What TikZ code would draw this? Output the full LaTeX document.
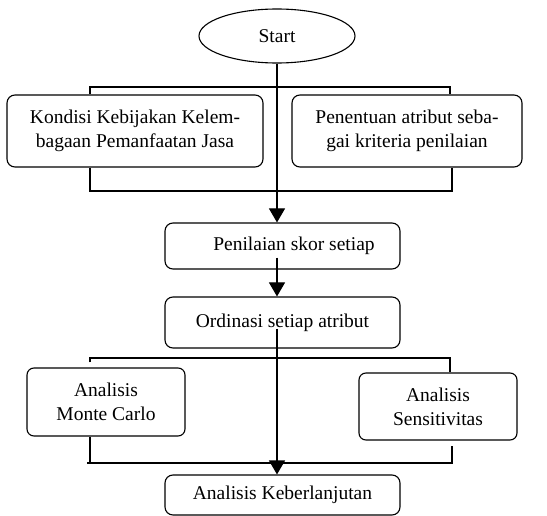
\documentclass[tikz,border=0pt]{standalone}
\usepackage{fontspec}
\setmainfont{Liberation Serif}
\usetikzlibrary{positioning,arrows.meta,shapes.geometric}

\begin{document}
\begin{tikzpicture}[x=1pt, y=-1pt, line width=1.1pt, >={Triangle[width=16pt,length=14pt]},
        proses/.style={rectangle, rounded corners=8pt, draw, inner sep=2pt,
                       font=\fontsize{19.5}{24}\selectfont, align=center},
        mulai/.style={ellipse, draw, inner sep=0pt, font=\fontsize{19.5}{24}\selectfont}]
        \useasboundingbox (0,0) rectangle (547,516);

        \node[mulai, minimum width=156pt, minimum height=54pt] (start) at (277,36) {Start};
        \node[proses, minimum width=256pt, minimum height=72pt] (kondisi) at (135,131)
            {Kondisi Kebijakan Kelem-\\bagaan Pemanfaatan Jasa};
        \node[proses, minimum width=230pt, minimum height=72pt] (penentuan) at (407,131)
            {Penentuan atribut seba-\\gai kriteria penilaian};
        \node[proses, minimum width=235pt, minimum height=46pt] (penilaian) at (282.5,246)
            {\hspace*{23pt}Penilaian skor setiap};
        \node[proses, minimum width=235pt, minimum height=51pt] (ordinasi) at (282.5,322.5)
            {Ordinasi setiap atribut};
        \node[proses, rounded corners=7pt, minimum width=158pt, minimum height=68pt] (montecarlo) at (106,402)
            {Analisis\\Monte Carlo};
        \node[proses, rounded corners=7pt, minimum width=158pt, minimum height=67pt] (sensitivitas) at (438,406.5)
            {Analisis\\Sensitivitas};
        \node[proses, minimum width=235pt, minimum height=40pt] (keberlanjutan) at (282.5,495)
            {Analisis Keberlanjutan};

        % titik sudut garis cabang
        \coordinate (atasL) at (90,87);
        \coordinate (atasR) at (450,87);
        \coordinate (bawahL) at (90,191);
        \coordinate (bawahR) at (452,191);
        \coordinate (cabangL) at (90,358);
        \coordinate (cabangR) at (450,358);
        \coordinate (gabungL) at (90,463);
        \coordinate (gabungR) at (452,463);

        \draw[->] (start.south) -- (penilaian.north -| start);
        \draw (kondisi.north -| atasL) -- (atasL) -- (atasR) -- (penentuan.north -| atasR);
        \draw (kondisi.south -| bawahL) -- (bawahL) -- (bawahR) -- (penentuan.south -| bawahR);

        \draw[->] ([yshift=12pt]penilaian.south -| start) -- (ordinasi.north -| start);
        \draw[->] ([yshift=20pt]ordinasi.south -| start) -- (keberlanjutan.north -| start);

        \draw ([yshift=5pt]montecarlo.north -| cabangL) -- (cabangL) -- (cabangR) -- (sensitivitas.north -| cabangR);
        \draw (montecarlo.south -| gabungL) -- (gabungL);
        \draw ([xshift=-3pt]gabungL) -- (gabungR) -- ([yshift=-5pt]sensitivitas.south -| gabungR);
\end{tikzpicture}
\end{document}
